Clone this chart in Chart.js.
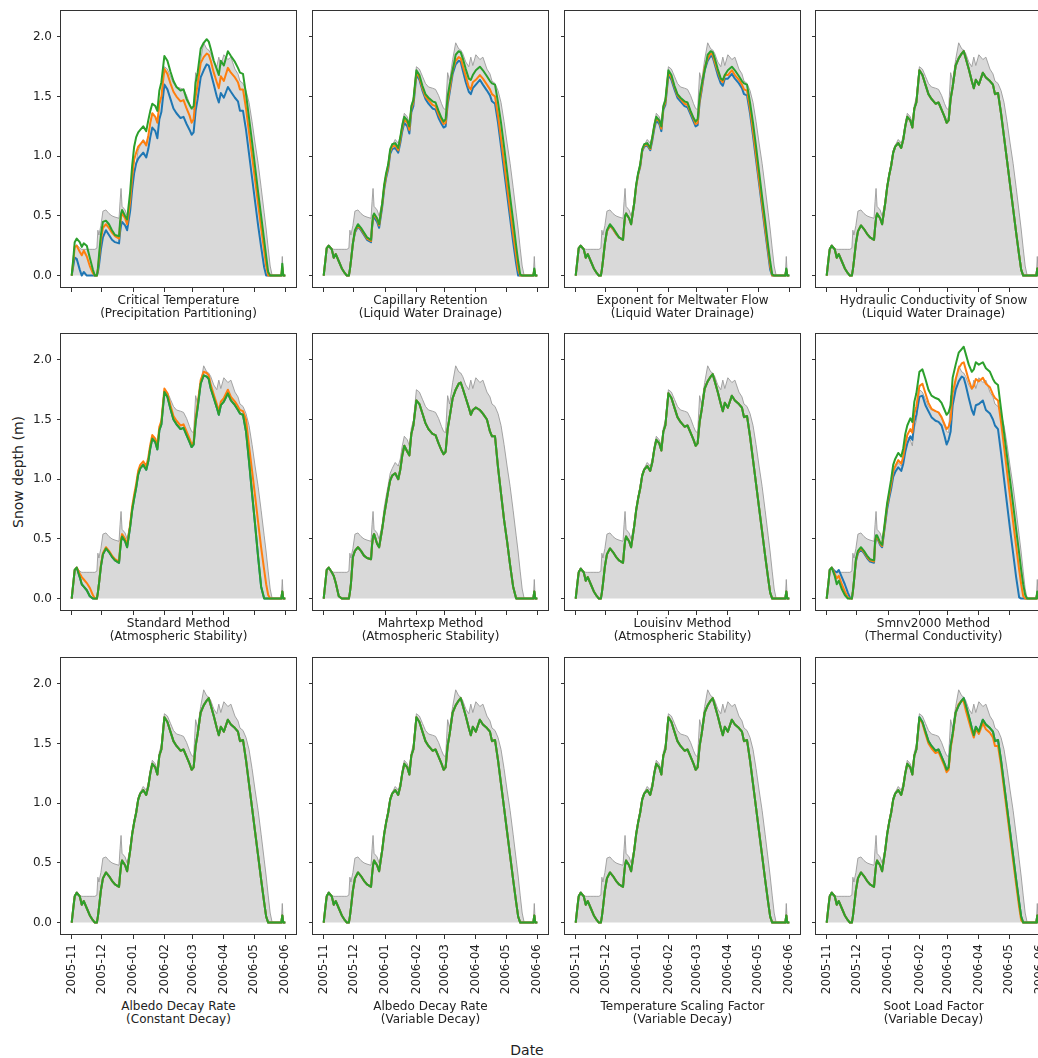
<!DOCTYPE html>
<html><head><meta charset="utf-8">
<script src="https://cdn.jsdelivr.net/npm/chart.js@4/dist/chart.umd.min.js"></script>
<style>
html,body{margin:0;padding:0;background:#fff;width:1038px;height:1058px;overflow:hidden;position:relative;font-family:'DejaVu Sans',sans-serif;color:#222;}
canvas.cv{position:absolute;}
.ttl{position:absolute;width:300px;text-align:center;font-size:12px;line-height:13px;color:#222;white-space:nowrap;}
</style></head><body>
<div style="position:absolute;left:477px;top:1041px;width:100px;text-align:center;font-size:14px;line-height:18px;color:#222">Date</div>
<div style="position:absolute;left:-82px;top:463px;width:200px;height:18px;text-align:center;font-size:14px;line-height:18px;color:#222;transform:rotate(-90deg);">Snow depth (m)</div>
<script>
// ---- x positions: days since 2005-11-01 ----
const days = [0,2,3,5,8,10,12,15,18,21,
23,25,26,27,29,31,34,37,40,43,
47,48,49,50,53,55,58,60,62,64,
66,68,71,74,76,78,80,83,85,87,
89,92,95,98,101,104,108,111,114,117,
119,121,123,125,128,131,134,136,138,141,
144,146,148,151,155,158,162,165,167,170,
173,176,179,182,185,188,191,193,195,197,
199,201,204,208,209,210,212];

const monthDays = [0,30,61,92,120,151,181,212];
const monthLabels = ['2005-11','2005-12','2006-01','2006-02','2006-03','2006-04','2006-05','2006-06'];
const yTicks = [0,0.5,1.0,1.5,2.0];

// observed snow depth (grey area)
const observed = [0,0.15,0.23,0.26,0.23,0.22,0.22,0.22,0.22,0.22,
0.22,0.23,0.38,0.34,0.42,0.54,0.55,0.52,0.50,0.49,
0.48,0.62,0.73,0.58,0.55,0.50,0.62,0.76,0.86,0.95,
1.05,1.09,1.14,1.11,1.17,1.28,1.36,1.33,1.28,1.43,
1.49,1.75,1.73,1.67,1.61,1.58,1.57,1.56,1.51,1.44,
1.40,1.39,1.70,1.63,1.81,1.95,1.90,1.89,1.86,1.79,
1.75,1.83,1.76,1.85,1.81,1.83,1.73,1.69,1.63,1.61,
1.55,1.45,1.29,1.11,0.94,0.74,0.53,0.39,0.23,0.08,
0,0,0,0,0.16,0,0];

// default simulation (lines overlap)
const baseRun = [0,0.15,0.22,0.25,0.22,0.15,0.18,0.12,0.06,0.02,
0,0,0.05,0.12,0.27,0.37,0.42,0.39,0.35,0.32,
0.30,0.40,0.48,0.52,0.48,0.43,0.60,0.74,0.84,0.92,
1.03,1.08,1.11,1.07,1.14,1.25,1.33,1.30,1.24,1.40,
1.45,1.72,1.68,1.60,1.52,1.48,1.44,1.45,1.39,1.33,
1.28,1.30,1.48,1.58,1.76,1.82,1.86,1.88,1.82,1.73,
1.63,1.57,1.64,1.60,1.70,1.66,1.63,1.60,1.52,1.53,
1.36,1.16,0.96,0.76,0.56,0.36,0.17,0.05,0,0,
0,0,0,0,0.06,0,0];

// Critical temperature
const ctBlue = [0,0.10,0.15,0.14,0.05,0,0.03,0,0,0,
0,0,0.03,0.08,0.22,0.32,0.38,0.34,0.30,0.28,
0.27,0.36,0.42,0.45,0.42,0.38,0.54,0.72,0.86,0.94,
0.98,1.00,1.03,0.99,1.06,1.16,1.24,1.21,1.15,1.31,
1.37,1.60,1.56,1.48,1.40,1.36,1.32,1.33,1.27,1.22,
1.18,1.20,1.38,1.48,1.66,1.72,1.77,1.76,1.70,1.60,
1.50,1.45,1.53,1.49,1.58,1.54,1.49,1.46,1.38,1.38,
1.22,1.02,0.82,0.62,0.42,0.24,0.07,0,0,0,
0,0,0,0,0.03,0,0];
const ctOrange = [0,0.15,0.24,0.25,0.20,0.17,0.21,0.16,0.08,0.02,
0,0,0.05,0.13,0.30,0.40,0.43,0.40,0.36,0.33,
0.31,0.42,0.49,0.52,0.48,0.43,0.62,0.82,0.97,1.03,
1.08,1.10,1.13,1.09,1.17,1.28,1.36,1.33,1.28,1.44,
1.50,1.73,1.69,1.61,1.54,1.50,1.46,1.47,1.40,1.34,
1.28,1.31,1.50,1.60,1.78,1.83,1.86,1.85,1.80,1.70,
1.62,1.57,1.67,1.63,1.74,1.70,1.66,1.62,1.56,1.56,
1.40,1.20,1.00,0.80,0.60,0.40,0.21,0.08,0,0,
0,0,0,0,0.07,0,0];
const ctGreen = [0,0.18,0.28,0.31,0.28,0.24,0.27,0.25,0.15,0.05,
0,0,0.06,0.16,0.34,0.45,0.46,0.43,0.38,0.34,
0.33,0.45,0.52,0.55,0.50,0.47,0.70,0.92,1.08,1.16,
1.20,1.22,1.25,1.21,1.30,1.38,1.44,1.42,1.38,1.55,
1.62,1.84,1.80,1.71,1.63,1.58,1.55,1.56,1.48,1.43,
1.40,1.42,1.62,1.70,1.90,1.95,1.98,1.96,1.90,1.80,
1.73,1.68,1.80,1.76,1.88,1.84,1.79,1.74,1.70,1.69,
1.52,1.32,1.12,0.91,0.70,0.50,0.30,0.16,0.03,0,
0,0,0,0,0.10,0,0];

// Capillary retention
const crBlue = [0,0.15,0.23,0.25,0.22,0.15,0.18,0.12,0.06,0.02,
0,0,0.05,0.12,0.27,0.36,0.41,0.38,0.34,0.30,
0.28,0.40,0.47,0.49,0.45,0.40,0.57,0.72,0.82,0.89,
1.02,1.06,1.07,1.03,1.11,1.21,1.28,1.25,1.19,1.37,
1.42,1.68,1.64,1.55,1.48,1.44,1.40,1.39,1.32,1.27,
1.24,1.25,1.43,1.53,1.69,1.77,1.80,1.79,1.72,1.62,
1.54,1.52,1.57,1.60,1.64,1.60,1.55,1.51,1.46,1.44,
1.28,1.08,0.88,0.68,0.48,0.28,0.10,0,0,0,
0,0,0,0,0.04,0,0];
const crOrange = [0,0.15,0.23,0.25,0.22,0.15,0.18,0.12,0.06,0.02,
0,0,0.05,0.12,0.27,0.37,0.42,0.39,0.35,0.31,
0.29,0.41,0.49,0.51,0.47,0.42,0.59,0.74,0.84,0.91,
1.04,1.08,1.09,1.05,1.14,1.24,1.31,1.28,1.22,1.40,
1.45,1.70,1.66,1.57,1.50,1.47,1.43,1.42,1.35,1.30,
1.27,1.28,1.46,1.56,1.72,1.80,1.83,1.82,1.76,1.67,
1.58,1.56,1.62,1.64,1.68,1.65,1.60,1.56,1.52,1.50,
1.34,1.15,0.95,0.75,0.55,0.35,0.17,0.05,0,0,
0,0,0,0,0.05,0,0];
const crGreen = [0,0.15,0.23,0.25,0.22,0.15,0.18,0.12,0.06,0.02,
0,0,0.05,0.12,0.27,0.38,0.43,0.40,0.36,0.32,
0.30,0.42,0.50,0.52,0.48,0.43,0.60,0.76,0.86,0.93,
1.06,1.10,1.11,1.07,1.16,1.26,1.33,1.30,1.25,1.42,
1.47,1.72,1.68,1.59,1.52,1.49,1.46,1.45,1.38,1.32,
1.29,1.31,1.50,1.60,1.72,1.85,1.88,1.87,1.82,1.73,
1.65,1.64,1.68,1.72,1.75,1.72,1.67,1.63,1.61,1.60,
1.45,1.28,1.08,0.87,0.66,0.46,0.25,0.12,0.01,0,
0,0,0,0,0.06,0,0];

// Exponent for meltwater flow
const emBlue = [0,0.15,0.23,0.25,0.22,0.15,0.18,0.12,0.06,0.02,
0,0,0.05,0.12,0.27,0.37,0.42,0.39,0.35,0.32,
0.30,0.41,0.49,0.52,0.48,0.43,0.60,0.75,0.85,0.91,
1.04,1.08,1.09,1.05,1.13,1.23,1.30,1.27,1.21,1.39,
1.43,1.68,1.64,1.56,1.49,1.46,1.42,1.41,1.35,1.29,
1.25,1.26,1.45,1.55,1.72,1.80,1.84,1.83,1.77,1.68,
1.61,1.59,1.65,1.65,1.69,1.65,1.61,1.57,1.52,1.51,
1.36,1.17,0.97,0.77,0.57,0.37,0.18,0.05,0,0,
0,0,0,0,0.05,0,0];
const emOrange = [0,0.15,0.23,0.25,0.22,0.15,0.18,0.12,0.06,0.02,
0,0,0.05,0.12,0.27,0.37,0.42,0.39,0.35,0.32,
0.30,0.41,0.49,0.52,0.48,0.43,0.60,0.75,0.85,0.92,
1.05,1.09,1.10,1.06,1.15,1.25,1.32,1.29,1.23,1.41,
1.45,1.70,1.66,1.58,1.51,1.48,1.44,1.43,1.37,1.31,
1.27,1.28,1.47,1.57,1.74,1.82,1.86,1.85,1.79,1.71,
1.64,1.62,1.68,1.68,1.72,1.68,1.64,1.60,1.56,1.55,
1.40,1.21,1.01,0.80,0.60,0.40,0.21,0.08,0,0,
0,0,0,0,0.05,0,0];
const emGreen = crGreen;

// Standard method
const smGreen = [0,0.16,0.24,0.26,0.18,0.12,0.10,0.07,0.02,0,
0,0,0.05,0.12,0.27,0.37,0.42,0.39,0.35,0.32,
0.30,0.40,0.48,0.52,0.48,0.43,0.60,0.74,0.84,0.93,
1.04,1.09,1.12,1.08,1.15,1.26,1.34,1.31,1.25,1.41,
1.46,1.73,1.69,1.59,1.50,1.46,1.42,1.43,1.37,1.31,
1.27,1.29,1.48,1.60,1.80,1.87,1.86,1.84,1.76,1.68,
1.60,1.54,1.62,1.65,1.72,1.66,1.62,1.58,1.55,1.54,
1.40,1.15,0.88,0.62,0.35,0.10,0,0,0,0,
0,0,0,0,0.06,0,0];
const smOrange = [0,0.16,0.24,0.26,0.21,0.18,0.16,0.13,0.09,0.03,
0,0,0.05,0.12,0.28,0.38,0.43,0.40,0.36,0.33,
0.31,0.42,0.50,0.54,0.50,0.45,0.62,0.77,0.87,0.96,
1.07,1.12,1.15,1.11,1.18,1.29,1.37,1.34,1.28,1.44,
1.49,1.76,1.72,1.62,1.53,1.49,1.45,1.46,1.40,1.34,
1.29,1.31,1.51,1.63,1.83,1.90,1.89,1.87,1.79,1.71,
1.63,1.57,1.65,1.68,1.75,1.69,1.65,1.61,1.58,1.57,
1.50,1.28,1.07,0.86,0.64,0.43,0.24,0.12,0.03,0,
0,0,0,0,0.06,0,0];

// Mahrtexp method
const meRun = [0,0.16,0.24,0.26,0.22,0.19,0.13,0.02,0,0,
0,0,0.05,0.12,0.35,0.40,0.43,0.40,0.36,0.34,
0.33,0.45,0.52,0.54,0.46,0.43,0.58,0.70,0.80,0.90,
0.99,1.03,1.05,1.00,1.08,1.20,1.28,1.23,1.20,1.38,
1.45,1.66,1.63,1.55,1.47,1.42,1.38,1.37,1.30,1.24,
1.21,1.23,1.42,1.52,1.68,1.75,1.80,1.81,1.76,1.68,
1.60,1.54,1.58,1.60,1.58,1.55,1.50,1.40,1.36,1.36,
1.10,0.88,0.66,0.48,0.28,0.10,0,0,0,0,
0,0,0,0,0.06,0,0];

// Smnv2000 method
const snBlue = [0,0.15,0.24,0.26,0.23,0.22,0.24,0.18,0.12,0.05,
0.01,0,0.06,0.14,0.31,0.38,0.41,0.38,0.34,0.31,
0.30,0.45,0.51,0.51,0.45,0.43,0.62,0.75,0.84,0.92,
1.02,1.06,1.10,1.07,1.13,1.23,1.30,1.36,1.33,1.48,
1.54,1.69,1.70,1.62,1.57,1.52,1.49,1.48,1.45,1.36,
1.29,1.33,1.40,1.62,1.75,1.82,1.86,1.85,1.79,1.68,
1.58,1.54,1.62,1.63,1.66,1.58,1.55,1.50,1.45,1.42,
1.22,1.00,0.79,0.58,0.38,0.18,0.01,0,0,0,
0,0,0,0,0.04,0,0];
const snOrange = [0,0.15,0.24,0.26,0.21,0.17,0.19,0.12,0.06,0.01,
0,0,0.06,0.14,0.32,0.39,0.42,0.39,0.35,0.32,
0.31,0.46,0.52,0.52,0.46,0.44,0.64,0.78,0.87,0.96,
1.07,1.11,1.16,1.13,1.19,1.30,1.37,1.42,1.39,1.55,
1.61,1.78,1.80,1.72,1.64,1.59,1.57,1.56,1.52,1.46,
1.42,1.44,1.50,1.72,1.84,1.93,1.97,1.98,1.92,1.83,
1.76,1.78,1.84,1.82,1.85,1.80,1.77,1.71,1.68,1.66,
1.48,1.27,1.06,0.85,0.64,0.44,0.24,0.12,0.02,0,
0,0,0,0,0.05,0,0];
const snGreen = [0,0.15,0.24,0.26,0.19,0.12,0.15,0.08,0.03,0,
0,0,0.06,0.14,0.33,0.40,0.43,0.40,0.36,0.33,
0.32,0.48,0.53,0.53,0.47,0.45,0.66,0.80,0.90,1.00,
1.12,1.17,1.22,1.19,1.26,1.38,1.45,1.51,1.48,1.65,
1.72,1.90,1.92,1.84,1.75,1.70,1.68,1.67,1.64,1.58,
1.54,1.56,1.62,1.85,1.96,2.06,2.09,2.11,2.05,1.96,
1.90,1.92,1.98,1.96,1.98,1.93,1.90,1.84,1.81,1.79,
1.59,1.39,1.19,0.99,0.79,0.58,0.38,0.24,0.12,0.03,
0,0,0,0,0.06,0,0];

// Soot load factor (orange differs slightly)
const slOrange = [0,0.15,0.22,0.25,0.22,0.15,0.18,0.12,0.06,0.02,
0,0,0.05,0.12,0.27,0.37,0.42,0.39,0.35,0.32,
0.30,0.40,0.48,0.52,0.48,0.43,0.60,0.74,0.84,0.92,
1.03,1.08,1.11,1.07,1.14,1.25,1.33,1.30,1.24,1.40,
1.45,1.71,1.67,1.58,1.50,1.46,1.42,1.43,1.37,1.31,
1.26,1.28,1.46,1.56,1.76,1.83,1.86,1.85,1.78,1.69,
1.60,1.55,1.62,1.58,1.67,1.62,1.59,1.55,1.48,1.48,
1.32,1.12,0.92,0.72,0.52,0.32,0.13,0.02,0,0,
0,0,0,0,0.06,0,0];

const panelTitles = [
 ['Critical Temperature','(Precipitation Partitioning)'],
 ['Capillary Retention','(Liquid Water Drainage)'],
 ['Exponent for Meltwater Flow','(Liquid Water Drainage)'],
 ['Hydraulic Conductivity of Snow','(Liquid Water Drainage)'],
 ['Standard Method','(Atmospheric Stability)'],
 ['Mahrtexp Method','(Atmospheric Stability)'],
 ['Louisinv Method','(Atmospheric Stability)'],
 ['Smnv2000 Method','(Thermal Conductivity)'],
 ['Albedo Decay Rate','(Constant Decay)'],
 ['Albedo Decay Rate','(Variable Decay)'],
 ['Temperature Scaling Factor','(Variable Decay)'],
 ['Soot Load Factor','(Variable Decay)']
];
// [blue, orange, green] per panel
const panelRuns = [
 [ctBlue, ctOrange, ctGreen],
 [crBlue, crOrange, crGreen],
 [emBlue, emOrange, emGreen],
 [baseRun, baseRun, baseRun],
 [smGreen, smOrange, smGreen],
 [meRun, meRun, meRun],
 [baseRun, baseRun, baseRun],
 [snBlue, snOrange, snGreen],
 [baseRun, baseRun, baseRun],
 [baseRun, baseRun, baseRun],
 [baseRun, baseRun, baseRun],
 [baseRun, slOrange, baseRun]
];

Chart.defaults.font.family = "'DejaVu Sans', sans-serif";
Chart.defaults.font.size = 12;
Chart.defaults.color = '#222';

const colLeft = [61, 313, 565, 816];
const rowTop = [10, 333, 657];
const plotW = 235, plotH = 278, yAxisW = 50, padTop = 5, padRight = 10;

const framePlugin = {
  id: 'frame',
  afterDraw(ch) {
    const a = ch.chartArea, ctx = ch.ctx;
    ctx.save();
    ctx.strokeStyle = '#333';
    ctx.lineWidth = 1;
    ctx.strokeRect(Math.round(a.left) - 0.5, Math.round(a.top) + 0.5,
                   Math.round(a.right - a.left) + 1, Math.round(a.bottom - a.top) - 1);
    ctx.restore();
  }
};

function pts(vals) { return days.map((d, i) => ({ x: d, y: vals[i] })); }

for (let p = 0; p < 12; p++) {
  const r = Math.floor(p / 4), c = p % 4;
  const xh = r === 2 ? 62 : 8;
  const cv = document.createElement('canvas');
  cv.className = 'cv';
  cv.width = yAxisW + plotW + padRight;
  cv.height = padTop + plotH + xh;
  cv.style.left = (colLeft[c] - yAxisW) + 'px';
  cv.style.top = (rowTop[r] - padTop) + 'px';
  document.body.appendChild(cv);

  const t = document.createElement('div');
  t.className = 'ttl';
  t.style.left = (colLeft[c] + plotW / 2 - 150) + 'px';
  t.style.top = (r === 2 ? 999.5 : rowTop[r] + plotH + 5.5) + 'px';
  t.innerHTML = panelTitles[p][0] + '<br>' + panelTitles[p][1];
  document.body.appendChild(t);

  const runs = panelRuns[p];
  new Chart(cv, {
    type: 'line',
    data: {
      datasets: [
        { label: 'Observed', data: pts(observed), borderColor: 'rgba(150,150,150,0.85)', borderWidth: 1,
          backgroundColor: '#d9d9d9', fill: 'origin', pointRadius: 0, order: 4 },
        { label: 'Low', data: pts(runs[0]), borderColor: '#1f77b4', borderWidth: 2, fill: false, pointRadius: 0, order: 3 },
        { label: 'Mid', data: pts(runs[1]), borderColor: '#ff7f0e', borderWidth: 2, fill: false, pointRadius: 0, order: 2 },
        { label: 'High', data: pts(runs[2]), borderColor: '#2ca02c', borderWidth: 2, fill: false, pointRadius: 0, order: 1 }
      ]
    },
    options: {
      responsive: false, animation: false, devicePixelRatio: 1,
      layout: { padding: { top: padTop, right: padRight, left: 0, bottom: 0 } },
      elements: { line: { tension: 0, borderJoinStyle: 'round' } },
      plugins: { legend: { display: false }, tooltip: { enabled: false } },
      scales: {
        x: {
          type: 'linear', min: -10.6, max: 222.6,
          afterBuildTicks: s => { s.ticks = monthDays.map(v => ({ value: v })); },
          afterFit: s => { s.height = xh; s.paddingLeft = 0; s.paddingRight = 0; s.paddingTop = 0; s.paddingBottom = 0; },
          grid: { drawOnChartArea: false, drawTicks: true, tickLength: 4, color: '#333', lineWidth: 1 },
          border: { display: false },
          ticks: { display: r === 2, autoSkip: false, minRotation: 90, maxRotation: 90, padding: 5,
                   callback: (v, i) => monthLabels[i] }
        },
        y: {
          min: -0.104, max: 2.225,
          afterBuildTicks: s => { s.ticks = yTicks.map(v => ({ value: v })); },
          afterFit: s => { s.width = yAxisW; s.paddingTop = 0; s.paddingBottom = 0; s.paddingLeft = 0; s.paddingRight = 0; },
          grid: { drawOnChartArea: false, drawTicks: true, tickLength: 4, color: '#333', lineWidth: 1 },
          border: { display: false },
          ticks: { display: c === 0, padding: 5, callback: v => Number(v).toFixed(1) }
        }
      }
    },
    plugins: [framePlugin]
  });
}
</script>
</body></html>
